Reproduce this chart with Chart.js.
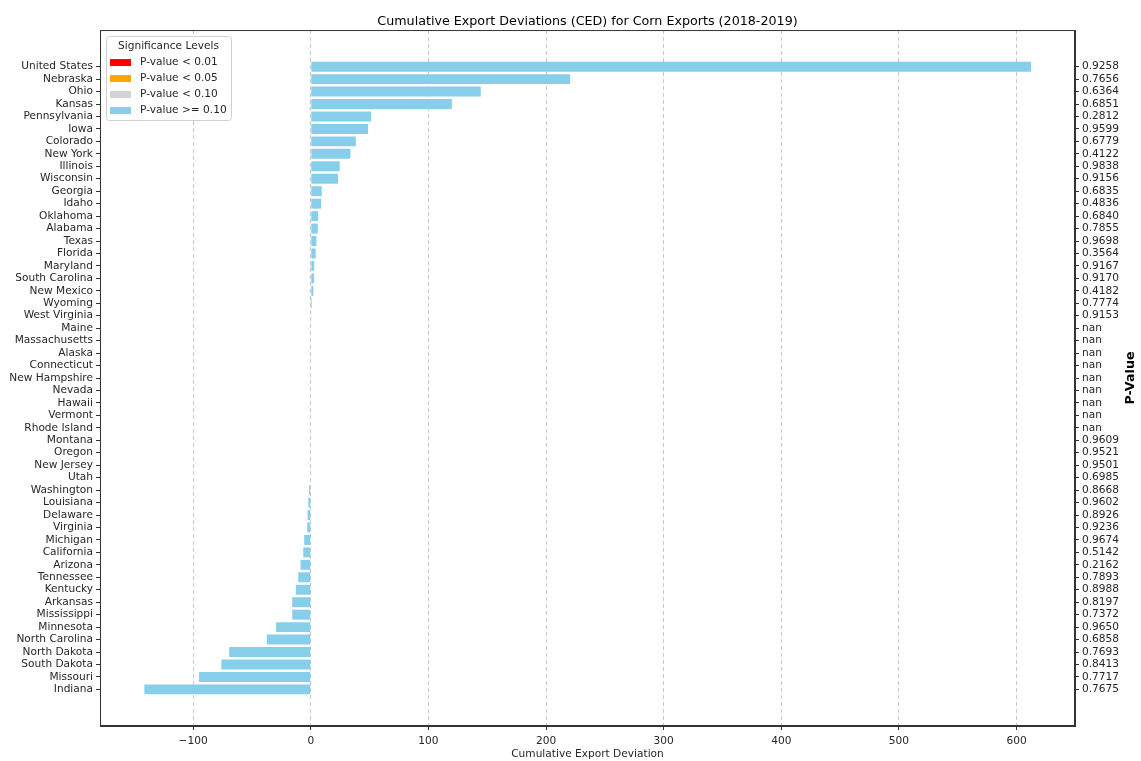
<!DOCTYPE html>
<html>
<head>
<meta charset="utf-8">
<title>CED Corn Exports</title>
<script src="https://cdn.jsdelivr.net/npm/chart.js@4.4.1/dist/chart.umd.min.js"></script>
<style>
  html, body { margin: 0; padding: 0; background: #fff; }
  #wrap { width: 1141px; height: 761px; }
</style>
</head>
<body>
<div id="wrap"><canvas id="cedChart" width="1141" height="761"></canvas></div>
<script>
// states, top to bottom
const states = [
    "United States", "Nebraska", "Ohio", "Kansas", "Pennsylvania", "Iowa", "Colorado",
    "New York", "Illinois", "Wisconsin", "Georgia", "Idaho", "Oklahoma", "Alabama",
    "Texas", "Florida", "Maryland", "South Carolina", "New Mexico", "Wyoming",
    "West Virginia", "Maine", "Massachusetts", "Alaska", "Connecticut", "New Hampshire",
    "Nevada", "Hawaii", "Vermont", "Rhode Island", "Montana", "Oregon", "New Jersey",
    "Utah", "Washington", "Louisiana", "Delaware", "Virginia", "Michigan", "California",
    "Arizona", "Tennessee", "Kentucky", "Arkansas", "Mississippi", "Minnesota",
    "North Carolina", "North Dakota", "South Dakota", "Missouri", "Indiana"
];

// cumulative export deviation
const ced = [
    612.3, 220.5, 144.5, 119.9, 51.3, 48.7, 38.3,
    33.7, 24.6, 23.2, 9.3, 8.8, 6.2, 6.0,
    4.8, 4.2, 2.9, 2.8, 2.2, 1.0,
    0.3, 0, 0, 0, 0, 0,
    0, 0, 0, 0, 0, 0, 0,
    -0.4, -1.4, -2.1, -2.7, -3.0, -5.6, -6.4,
    -8.7, -10.7, -12.7, -15.8, -15.8, -29.5,
    -37.4, -69.4, -76.0, -95.0, -141.5
];

// p-values (NaN = not available)
const pValues = [
    0.9258, 0.7656, 0.6364, 0.6851, 0.2812, 0.9599, 0.6779,
    0.4122, 0.9838, 0.9156, 0.6835, 0.4836, 0.6840, 0.7855,
    0.9698, 0.3564, 0.9167, 0.9170, 0.4182, 0.7774,
    0.9153, NaN, NaN, NaN, NaN, NaN,
    NaN, NaN, NaN, NaN, 0.9609, 0.9521, 0.9501,
    0.6985, 0.8668, 0.9602, 0.8926, 0.9236, 0.9674, 0.5142,
    0.2162, 0.7893, 0.8988, 0.8197, 0.7372, 0.9650,
    0.6858, 0.7693, 0.8413, 0.7717, 0.7675
];

const xTicks = [-100, 0, 100, 200, 300, 400, 500, 600];

const sigLabels = ["P-value < 0.01", "P-value < 0.05", "P-value < 0.10", "P-value >= 0.10"];
const sigColors = ["red", "orange", "lightgray", "skyblue"];

function barColor(p) {
    if (p < 0.01) return "red";
    if (p < 0.05) return "orange";
    if (p < 0.10) return "lightgray";
    return "skyblue";
}

const FONT = "'DejaVu Sans', sans-serif";
const TEXT = "#262626";
const EDGE = "#333";

// matplotlib-like padding around the data
const xMin = -179.2, xMax = 649.7;
const yMin = -2.94, yMax = states.length - 1 + 2.94;
const idx = states.map((s, i) => i);

const frameAndLegend = {
    id: "frameAndLegend",
    afterDraw(chart) {
        const ctx = chart.ctx;
        const a = chart.chartArea;
        ctx.save();
        ctx.strokeStyle = EDGE;
        ctx.lineWidth = 1;
        ctx.strokeRect(a.left + 0.5, a.top + 0.5, a.right - a.left - 1, a.bottom - a.top - 1);

        // legend box, upper left
        const bx = a.left + 6, by = a.top + 6, bw = 125, bh = 84;
        ctx.fillStyle = "rgba(255,255,255,0.85)";
        ctx.strokeStyle = "#d0d0d0";
        ctx.beginPath();
        ctx.roundRect(bx + 0.5, by + 0.5, bw, bh, 3);
        ctx.fill();
        ctx.stroke();

        ctx.fillStyle = TEXT;
        ctx.font = "10.6px " + FONT;
        ctx.textBaseline = "middle";
        ctx.textAlign = "center";
        ctx.fillText("Significance Levels", bx + bw / 2, by + 10);
        ctx.textAlign = "left";
        sigLabels.forEach((lab, i) => {
            const cy = by + 26.5 + i * 16;
            ctx.fillStyle = sigColors[i];
            ctx.fillRect(bx + 4, cy - 3.5, 21, 7);
            ctx.fillStyle = TEXT;
            ctx.fillText(lab, bx + 34, cy);
        });

        // right axis title
        ctx.font = "bold 12.7px " + FONT;
        ctx.fillStyle = "#000";
        ctx.textAlign = "center";
        ctx.translate(1131, (a.top + a.bottom) / 2);
        ctx.rotate(-Math.PI / 2);
        ctx.fillText("P-Value", 0, 0);
        ctx.restore();
    }
};

new Chart(document.getElementById("cedChart"), {
    type: "bar",
    data: {
        datasets: [{
            label: "CED",
            data: states.map((s, i) => ({ x: ced[i], y: i })),
            backgroundColor: pValues.map(barColor),
            borderWidth: 0,
            categoryPercentage: 1,
            barPercentage: 0.8
        }]
    },
    options: {
        indexAxis: "y",
        responsive: false,
        animation: false,
        layout: { padding: 0 },
        scales: {
            x: {
                type: "linear",
                min: xMin,
                max: xMax,
                afterBuildTicks: ax => { ax.ticks = xTicks.map(v => ({ value: v })); },
                afterFit: ax => { ax.height = 35; },
                ticks: {
                    color: TEXT,
                    font: { family: FONT, size: 10.6 },
                    padding: 5,
                    maxRotation: 0,
                    callback: v => v < 0 ? "\u2212" + Math.abs(v) : String(v)
                },
                grid: { color: "#c8c8c8", tickColor: EDGE, tickLength: 4, lineWidth: 1 },
                border: { color: EDGE, dash: [4, 3] },
                title: {
                    display: true,
                    text: "Cumulative Export Deviation",
                    color: TEXT,
                    font: { family: FONT, size: 10.6 },
                    padding: { top: 0, bottom: 0 }
                }
            },
            y: {
                type: "linear",
                position: "left",
                reverse: true,
                offset: false,
                min: yMin,
                max: yMax,
                afterBuildTicks: ax => { ax.ticks = idx.map(v => ({ value: v })); },
                afterFit: ax => { ax.width = 100; },
                ticks: {
                    color: TEXT,
                    font: { family: FONT, size: 10.6 },
                    padding: 3,
                    autoSkip: false,
                    callback: v => states[v]
                },
                grid: { offset: false, drawOnChartArea: false, tickColor: EDGE, tickLength: 4 },
                border: { color: EDGE }
            },
            y2: {
                type: "linear",
                position: "right",
                reverse: true,
                offset: false,
                min: yMin,
                max: yMax,
                afterBuildTicks: ax => { ax.ticks = idx.map(v => ({ value: v })); },
                afterFit: ax => { ax.width = 66; },
                ticks: {
                    color: TEXT,
                    font: { family: FONT, size: 10.6 },
                    padding: 3,
                    autoSkip: false,
                    callback: v => isNaN(pValues[v]) ? "nan" : pValues[v].toFixed(4)
                },
                grid: { offset: false, drawOnChartArea: false, tickColor: EDGE, tickLength: 4 },
                border: { color: EDGE }
            }
        },
        plugins: {
            legend: { display: false },
            tooltip: { enabled: false },
            title: {
                display: true,
                fullSize: false,
                text: "Cumulative Export Deviations (CED) for Corn Exports (2018-2019)",
                color: "#000",
                font: { family: FONT, size: 12.7, weight: "normal" },
                padding: { top: 14, bottom: 0.8 }
            }
        }
    },
    plugins: [frameAndLegend]
});
</script>
</body>
</html>
